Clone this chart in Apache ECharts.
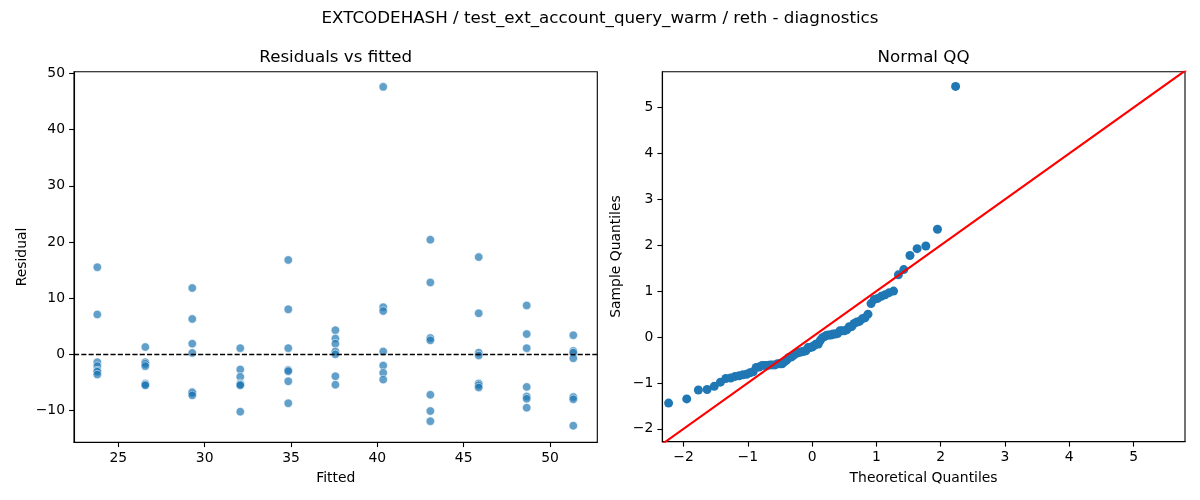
<!DOCTYPE html>
<html>
<head>
<meta charset="utf-8">
<title>EXTCODEHASH diagnostics</title>
<script src="https://cdn.jsdelivr.net/npm/echarts@6/dist/echarts.min.js"></script>
<style>
  html, body { margin: 0; padding: 0; background: #fff; }
  #chart { width: 1200px; height: 500px; }
</style>
</head>
<body>
<div id="chart"></div>
<script>
// fitted value of each group (x of left panel)
var fitted = [23.78, 26.56, 29.28, 32.06, 34.84, 37.57, 40.34, 43.07, 45.87, 48.65, 51.35];
// residuals per fitted group
var residuals = [
  [15.5, 7.1, -1.4, -2.1, -2.9, -3.1, -3.6],
  [1.3, -1.4, -1.7, -2.1, -5.2, -5.4, -5.5],
  [11.8, 6.3, 1.9, 0.25, -6.7, -6.9, -7.3],
  [1.1, -2.7, -4.0, -5.2, -5.4, -5.5, -10.2],
  [16.8, 8.0, 1.1, -2.8, -3.0, -4.8, -8.7],
  [4.3, 2.8, 1.9, 0.5, 0.0, -3.9, -5.4],
  [47.6, 8.4, 7.7, 0.5, -2.0, -3.3, -4.5],
  [20.4, 12.8, 2.9, 2.5, -7.2, -10.1, -11.9],
  [17.3, 7.3, 0.3, -0.2, -5.2, -5.5, -5.9],
  [8.7, 3.6, 1.1, -5.8, -7.5, -7.9, -9.5],
  [3.4, 0.6, 0.3, -0.7, -7.6, -8.0, -12.7]
];
// normal QQ points
var qqTheoretical = [
  -2.232, -1.950, -1.769, -1.633, -1.522, -1.426, -1.342, -1.267, -1.198, -1.135,
  -1.076, -1.020, -0.967, -0.917, -0.869, -0.823, -0.779, -0.736, -0.695, -0.654,
  -0.615, -0.577, -0.539, -0.502, -0.466, -0.431, -0.396, -0.361, -0.327, -0.293,
  -0.260, -0.227, -0.194, -0.161, -0.129, -0.097, -0.064, -0.032, 0.000, 0.032,
  0.064, 0.097, 0.129, 0.161, 0.194, 0.227, 0.260, 0.293, 0.327, 0.361,
  0.396, 0.431, 0.466, 0.502, 0.539, 0.577, 0.615, 0.654, 0.695, 0.736,
  0.779, 0.823, 0.869, 0.917, 0.967, 1.020, 1.076, 1.135, 1.198, 1.267,
  1.342, 1.426, 1.522, 1.633, 1.769, 1.950, 2.232
];
var qqSample = [
  -1.439, -1.348, -1.154, -1.143, -1.074, -0.983, -0.903, -0.892, -0.858, -0.846,
  -0.823, -0.812, -0.778, -0.755, -0.664, -0.652, -0.618, -0.618, -0.618, -0.607,
  -0.607, -0.607, -0.584, -0.584, -0.584, -0.538, -0.504, -0.447, -0.436, -0.401,
  -0.367, -0.344, -0.333, -0.322, -0.310, -0.299, -0.230, -0.230, -0.219, -0.185,
  -0.151, -0.151, -0.071, -0.014, 0.009, 0.038, 0.043, 0.043, 0.066, 0.066,
  0.078, 0.135, 0.135, 0.135, 0.157, 0.226, 0.226, 0.294, 0.328, 0.340,
  0.397, 0.420, 0.499, 0.728, 0.819, 0.842, 0.887, 0.921, 0.967, 1.001,
  1.355, 1.469, 1.777, 1.925, 1.982, 2.347, 5.460
];
// 45 degree reference line ends
var qqLine = [[-2.5, -2.5], [6.0, 6.0]];

var leftXTicks = [25, 30, 35, 40, 45, 50];
var leftYTicks = [-10, 0, 10, 20, 30, 40, 50];
var rightXTicks = [-2, -1, 0, 1, 2, 3, 4, 5];
var rightYTicks = [-2, -1, 0, 1, 2, 3, 4, 5];

var FONT = 'DejaVu Sans';

function minus(v) {
  return String(v).replace('-', '\u2212');
}

// matplotlib-like axis
function makeAxis(gridIndex, pos, min, max, ticks) {
  return {
    type: 'value',
    gridIndex: gridIndex,
    position: pos,
    min: min,
    max: max,
    splitLine: { show: false },
    axisLine: { show: true, onZero: false, lineStyle: { color: '#000', width: 1.1 } },
    axisTick: { show: true, inside: false, length: 4.9, customValues: ticks,
      lineStyle: { color: '#000', width: 1.1 } },
    axisLabel: { show: true, customValues: ticks, margin: 9, color: '#000',
      fontFamily: FONT, fontSize: 13.9, formatter: minus }
  };
}

var scatterData = [];
for (var i = 0; i < fitted.length; i++) {
  for (var j = 0; j < residuals[i].length; j++) {
    scatterData.push([fitted[i], residuals[i][j]]);
  }
}
var qqData = qqTheoretical.map(function (t, k) { return [t, qqSample[k]]; });

function txt(text, x, y, size, rot) {
  return {
    type: 'text', x: x, y: y, rotation: rot || 0, z: 10,
    style: { text: text, fill: '#000', font: size + 'px "' + FONT + '"',
      textAlign: 'center', textVerticalAlign: 'middle' }
  };
}

var chart = echarts.init(document.getElementById('chart'), null, { renderer: 'canvas' });
chart.setOption({
  animation: false,
  backgroundColor: '#fff',
  grid: [
    { left: 74, top: 71.7, width: 523.3, height: 370.5, show: true,
      borderColor: '#000', borderWidth: 1.1, backgroundColor: 'transparent' },
    { left: 662.3, top: 71.7, width: 522.7, height: 370, show: true,
      borderColor: '#000', borderWidth: 1.1, backgroundColor: 'transparent' }
  ],
  xAxis: [
    makeAxis(0, 'bottom', 22.43, 52.74, leftXTicks),
    makeAxis(1, 'bottom', -2.33, 5.80, rightXTicks)
  ],
  yAxis: [
    makeAxis(0, 'left', -15.64, 50.3, leftYTicks),
    makeAxis(1, 'left', -2.28, 5.78, rightYTicks)
  ],
  graphic: [
    txt('EXTCODEHASH / test_ext_account_query_warm / reth - diagnostics', 600, 18.5, 16.7),
    txt('Residuals vs fitted', 335.7, 58, 16.7),
    txt('Normal QQ', 923.6, 58, 16.7),
    txt('Fitted', 335.7, 478.5, 13.9),
    txt('Theoretical Quantiles', 923.6, 478.5, 13.9),
    txt('Residual', 22, 257, 13.9, Math.PI / 2),
    txt('Sample Quantiles', 616.5, 256.5, 13.9, Math.PI / 2)
  ],
  series: [
    {
      type: 'scatter',
      xAxisIndex: 0, yAxisIndex: 0,
      data: scatterData,
      symbolSize: 8.5,
      itemStyle: { color: '#1f77b4', opacity: 0.7, borderColor: '#fff', borderWidth: 0.8 },
      z: 2,
      markLine: {
        silent: true,
        symbol: 'none',
        label: { show: false },
        z: 5,
        lineStyle: { color: '#000', width: 1.4, type: [5.1, 2.2] },
        data: [{ yAxis: 0 }]
      }
    },
    {
      type: 'scatter',
      xAxisIndex: 1, yAxisIndex: 1,
      data: qqData,
      symbolSize: 9,
      itemStyle: { color: '#1f77b4', opacity: 1 },
      z: 2
    },
    {
      type: 'line',
      xAxisIndex: 1, yAxisIndex: 1,
      data: qqLine,
      symbol: 'none',
      clip: true,
      lineStyle: { color: '#ff0000', width: 2.1 },
      z: 4
    }
  ]
});
</script>
</body>
</html>
